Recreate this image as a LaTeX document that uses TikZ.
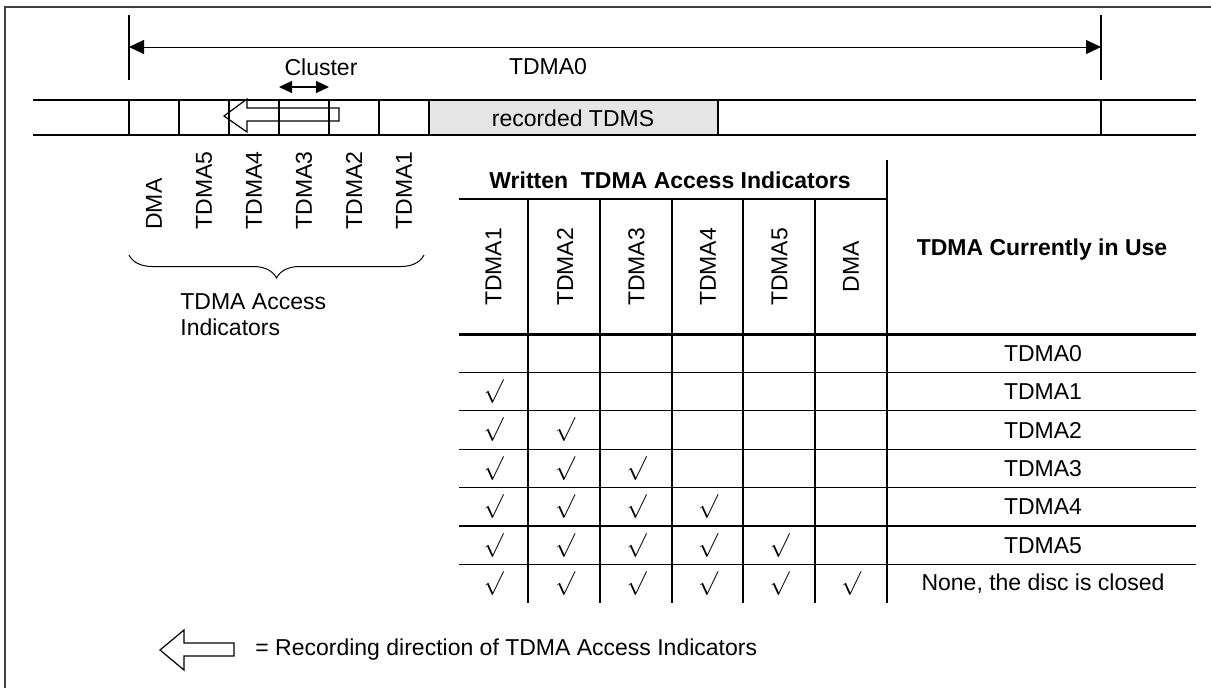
\documentclass[tikz,border=0pt]{standalone}
\usepackage{fontspec}
\setmainfont{Liberation Sans}
\usetikzlibrary{arrows.meta,decorations.pathreplacing,positioning}

\tikzset{
  vlabel/.style={rotate=90,inner sep=0pt},
  head/.style={font=\fontsize{11.5}{13}\selectfont\bfseries},
  tick/.style={line width=0.75pt},
  grid/.style={line width=0.65pt},
  dimarrow/.style={line width=0.5pt,{Triangle[length=7.5pt,width=7pt]}-{Triangle[length=7.5pt,width=7pt]}},
  clusterarrow/.style={line width=0.6pt,{Triangle[length=6.5pt,width=6pt]}-{Triangle[length=6.5pt,width=6pt]}},
  hollowarrow/.style={line width=0.6pt,line join=miter}
}

\begin{document}
\begin{tikzpicture}[x=0.5pt,y=-0.5pt,font=\fontsize{11.5}{13}\selectfont]
\useasboundingbox (0,0) rectangle (1211,687);

% frame
\draw[line width=1pt,black!75] (5,700) -- (5,7) -- (1220,7);

% TDMA0 span
\draw[tick] (129,15) -- (129,80);
\draw[tick] (1101,15) -- (1101,80);
\coordinate (spanL) at (129,47);
\coordinate (spanR) at (1101,47);
\draw[dimarrow] (spanL) -- (spanR);
\node (tdma0) at (548,67) {TDMA0};

% cluster
\node (cluster) at (321,67) {Cluster};
\coordinate (clL) at (279,87);
\coordinate (clR) at (329,87);
\draw[clusterarrow] (clL) -- (clR);

% strip
\fill[black!10] (429,100) rectangle (718,135);
\draw[tick] (33,100) -- (1196,100);
\draw[tick] (33,135) -- (1196,135);
\foreach \x in {129,179,229,279,329,379,429,718,1101}
  \draw[tick] (\x,100) -- (\x,135);
\node (tdms) at (573,118) {recorded TDMS};

\draw[hollowarrow]
(224,116) --
(247,99) --
(247,108) --
(339,108) --
(339,121) --
(247,121) --
(247,132) --
cycle;

% indicator labels
\foreach \t [count=\i] in {DMA,TDMA5,TDMA4,TDMA3,TDMA2,TDMA1}
  \node[vlabel,anchor=west] (s\i) at (104+50*\i,230) {\t};

\draw[decorate,decoration={brace,mirror,amplitude=11.5pt},line width=0.5pt]
(129,255) -- (424,255);
\node[align=left,anchor=west,inner sep=0pt] (acc) at (180,315) {TDMA Access\\Indicators};

% table
\draw[grid] (887,160) -- (887,603);
\draw[grid] (459,199) -- (887,199);
\foreach \x in {528,600,672,743,815}
  \draw[grid] (\x,199) -- (\x,603);
\draw[line width=1.5pt] (459,334) -- (1196,334);
\foreach \k in {1,...,6}
  \draw[grid] (459,334+38.4*\k) -- (1196,334+38.4*\k);

\node[head] (written) at (670,180) {Written\ \ TDMA Access Indicators};
\node[head] (inuse) at (1042,250) {TDMA Currently in Use};

\foreach \t/\x [count=\i] in {TDMA1/493.5,TDMA2/565,TDMA3/636.5,TDMA4/708,TDMA5/779.5,DMA/851}
  \node[vlabel] (c\i) at (\x,267) {\t};

\foreach \t [count=\r from 0] in {TDMA0,TDMA1,TDMA2,TDMA3,TDMA4,TDMA5,{None, the disc is closed}}
  \node (u\r) at (1043,353.2+38.4*\r) {\t};

\foreach \r in {1,...,6}
  \foreach \c in {1,...,\r}
    \node (k\r\c) at (422+71.5*\c,353.2+38.4*\r) {$\surd$};

% legend
\draw[hollowarrow]
(160,650) --
(184,630) --
(184,643) --
(234,643) --
(234,656) --
(184,656) --
(184,670) --
cycle;
\node[anchor=west,inner sep=0pt] (legend) at (255,650) {= Recording direction of TDMA Access Indicators};

\end{tikzpicture}
\end{document}
